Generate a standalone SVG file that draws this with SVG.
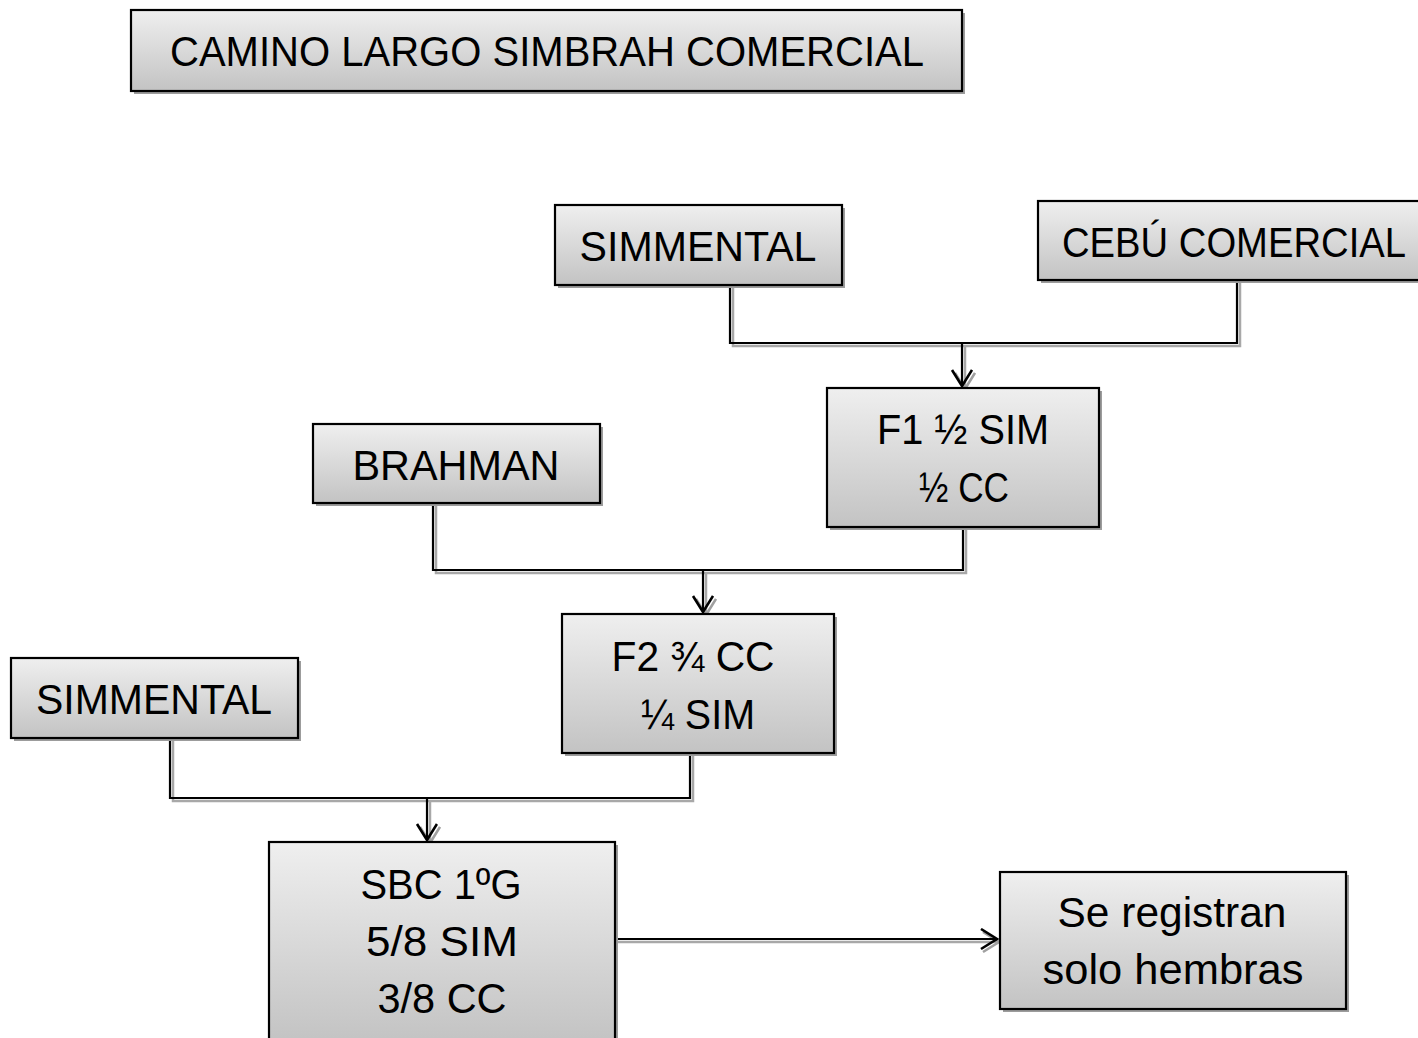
<svg xmlns="http://www.w3.org/2000/svg" width="1418" height="1038" viewBox="0 0 1418 1038">
<defs>
<linearGradient id="g" x1="0" y1="0" x2="0" y2="1">
<stop offset="0" stop-color="#efefef"/>
<stop offset="1" stop-color="#c3c3c3"/>
</linearGradient>
<marker id="ah" markerWidth="22" markerHeight="24" refX="17" refY="11" orient="auto" markerUnits="userSpaceOnUse">
<path d="M1,1 L17,11 L1,21" fill="none" stroke="#000" stroke-width="2.6"/>
</marker>
<marker id="ahs" markerWidth="22" markerHeight="24" refX="17" refY="11" orient="auto" markerUnits="userSpaceOnUse">
<path d="M1,1 L17,11 L1,21" fill="none" stroke="#a0a0a0" stroke-width="2.6"/>
</marker>
</defs>
<style>
.box{fill:url(#g);stroke:#000;stroke-width:2.2}
.sh{fill:#9c9c9c}
.t{font-family:"Liberation Sans","Open Sans",sans-serif;font-size:43px;fill:#000;text-anchor:middle}
.ln{fill:none;stroke:#000;stroke-width:2.2}
.lns{fill:none;stroke:#a8a8a8;stroke-width:2.5}
</style>
<rect width="1418" height="1038" fill="#fff"/>
<g id="connectors">
<path class="lns" d="M733,288 V346 H1240 V283"/>
<path class="ln" d="M730,285 V343 H1237 V280"/>
<line class="lns" x1="965" y1="346" x2="965" y2="389" marker-end="url(#ahs)"/>
<line class="ln" x1="962" y1="343" x2="962" y2="386" marker-end="url(#ah)"/>
<path class="lns" d="M436,506 V573 H966 V530"/>
<path class="ln" d="M433,503 V570 H963 V527"/>
<line class="lns" x1="706" y1="573" x2="706" y2="615" marker-end="url(#ahs)"/>
<line class="ln" x1="703" y1="570" x2="703" y2="612" marker-end="url(#ah)"/>
<path class="lns" d="M173,741 V801 H693 V756"/>
<path class="ln" d="M170,738 V798 H690 V753"/>
<line class="lns" x1="430" y1="801" x2="430" y2="843" marker-end="url(#ahs)"/>
<line class="ln" x1="427" y1="798" x2="427" y2="840" marker-end="url(#ah)"/>
<line class="lns" x1="616" y1="942" x2="999" y2="942" marker-end="url(#ahs)"/>
<line class="ln" x1="616" y1="939" x2="997" y2="939" marker-end="url(#ah)"/>
</g>
<g id="title">
<rect class="sh" x="134" y="13" width="831" height="81"/>
<rect class="box" x="131" y="10" width="831" height="81"/>
<text class="t" x="547" y="66" textLength="754" lengthAdjust="spacingAndGlyphs">CAMINO LARGO SIMBRAH COMERCIAL</text>
</g>
<g id="simmental1">
<rect class="sh" x="558" y="208" width="287" height="80"/>
<rect class="box" x="555" y="205" width="287" height="80"/>
<text class="t" x="698" y="261" textLength="237" lengthAdjust="spacingAndGlyphs">SIMMENTAL</text>
</g>
<g id="cebu">
<rect class="sh" x="1041" y="204" width="380" height="79"/>
<rect class="box" x="1038" y="201" width="382" height="79"/>
<text class="t" x="1234" y="257" textLength="344" lengthAdjust="spacingAndGlyphs">CEBÚ COMERCIAL</text>
</g>
<g id="f1">
<rect class="sh" x="830" y="391" width="272" height="139"/>
<rect class="box" x="827" y="388" width="272" height="139"/>
<text class="t" x="963" y="444" textLength="172" lengthAdjust="spacingAndGlyphs">F1 ½ SIM</text>
<text class="t" x="964" y="502" textLength="90" lengthAdjust="spacingAndGlyphs">½ CC</text>
</g>
<g id="brahman">
<rect class="sh" x="316" y="427" width="287" height="79"/>
<rect class="box" x="313" y="424" width="287" height="79"/>
<text class="t" x="456" y="480" textLength="207" lengthAdjust="spacingAndGlyphs">BRAHMAN</text>
</g>
<g id="f2">
<rect class="sh" x="565" y="617" width="272" height="139"/>
<rect class="box" x="562" y="614" width="272" height="139"/>
<text class="t" x="693" y="671" textLength="163" lengthAdjust="spacingAndGlyphs">F2 ¾ CC</text>
<text class="t" x="698" y="729" textLength="114" lengthAdjust="spacingAndGlyphs">¼ SIM</text>
</g>
<g id="simmental2">
<rect class="sh" x="14" y="661" width="287" height="80"/>
<rect class="box" x="11" y="658" width="287" height="80"/>
<text class="t" x="154" y="714" textLength="236" lengthAdjust="spacingAndGlyphs">SIMMENTAL</text>
</g>
<g id="sbc">
<rect class="sh" x="272" y="845" width="346" height="200"/>
<rect class="box" x="269" y="842" width="346" height="200"/>
<text class="t" x="441" y="899" textLength="161" lengthAdjust="spacingAndGlyphs">SBC 1ºG</text>
<text class="t" x="442" y="956" textLength="152" lengthAdjust="spacingAndGlyphs">5/8 SIM</text>
<text class="t" x="442" y="1013" textLength="129" lengthAdjust="spacingAndGlyphs">3/8 CC</text>
</g>
<g id="registro">
<rect class="sh" x="1003" y="875" width="346" height="137"/>
<rect class="box" x="1000" y="872" width="346" height="137"/>
<text class="t" x="1172" y="927" textLength="229" lengthAdjust="spacingAndGlyphs">Se registran</text>
<text class="t" x="1173" y="984" textLength="261" lengthAdjust="spacingAndGlyphs">solo hembras</text>
</g>
</svg>
